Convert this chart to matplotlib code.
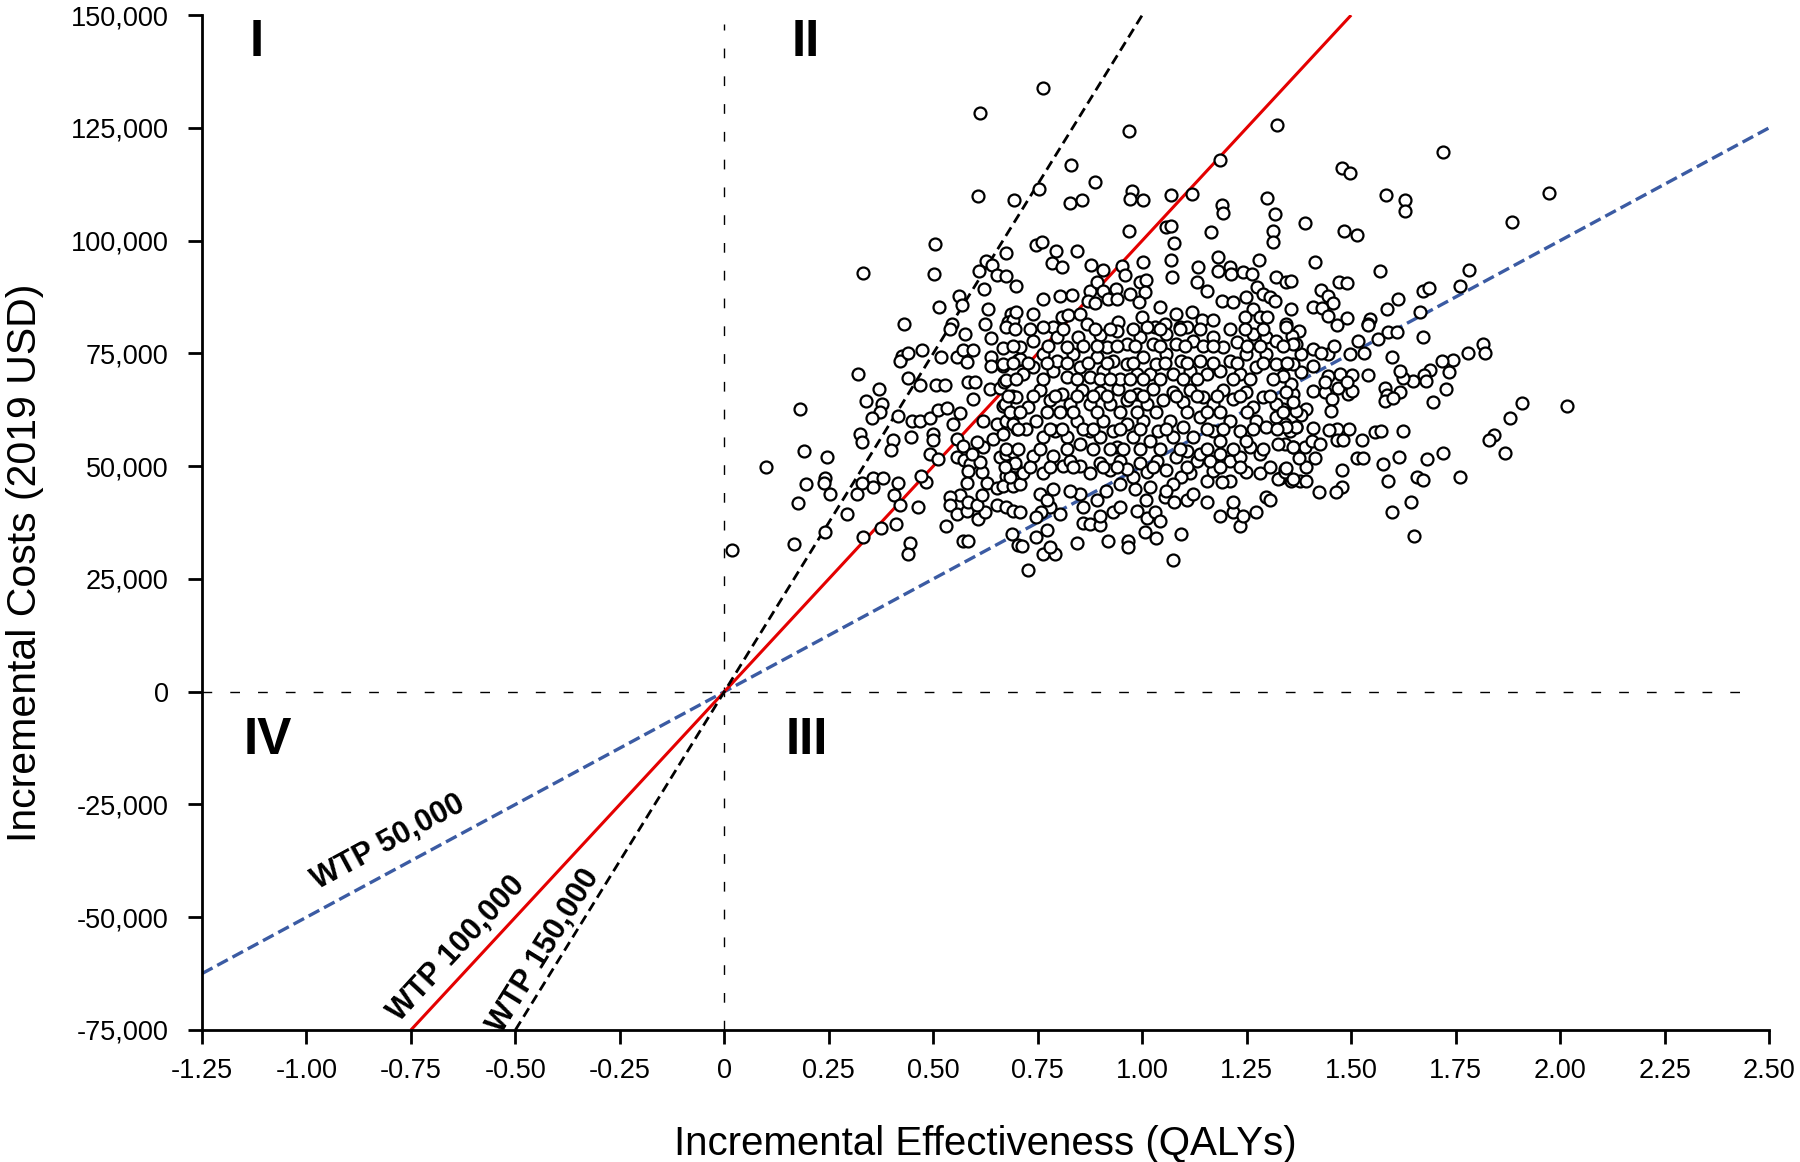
import numpy as np
import matplotlib
matplotlib.use("Agg")
import matplotlib.pyplot as plt
from matplotlib import font_manager

# ---------------- data (QALYs, cost in thousand USD) ----------------
# outer / upper-left part of the cloud
pts_upper_left = [
    (0.612, 128.4), (0.606, 109.8), (0.693, 109.0), (0.504, 99.3), (0.331, 92.8), (0.501, 92.6),
    (0.675, 97.2), (0.625, 95.4), (0.640, 94.7), (0.610, 93.2), (0.653, 92.4), (0.673, 92.1),
    (0.698, 90.0), (0.622, 89.2), (0.562, 87.8), (0.568, 85.8), (0.514, 85.2), (0.630, 84.9),
    (0.430, 81.5), (0.624, 81.6), (0.685, 83.8), (0.679, 81.9), (0.691, 82.3), (0.546, 81.5),
]
# upper-middle part
pts_upper_mid = [
    (0.763, 133.9), (0.969, 124.4), (1.323, 125.7), (1.186, 117.9), (0.829, 116.7), (0.888, 112.9),
    (0.753, 111.4), (0.827, 108.3), (0.856, 108.9), (0.975, 111.1), (0.971, 109.2), (1.001, 108.9),
    (1.070, 110.2), (1.120, 110.4), (1.298, 109.5), (1.192, 108.0), (1.193, 106.1), (1.318, 106.0),
    (0.969, 102.1), (1.058, 103.1), (1.070, 103.2), (1.164, 102.0), (1.312, 102.1), (1.313, 99.6),
    (1.076, 99.5), (0.746, 99.0), (0.761, 99.8), (0.793, 97.6), (0.785, 95.1), (0.808, 94.2),
    (0.843, 97.6), (0.877, 94.7), (0.905, 93.6), (0.951, 94.4), (0.959, 92.3), (1.002, 95.2),
    (1.069, 95.8), (1.071, 91.9), (1.134, 94.2), (1.130, 90.9), (1.154, 88.9), (1.182, 96.3),
    (1.182, 93.2), (1.211, 94.2), (1.212, 92.6), (1.242, 93.0), (1.262, 92.7), (1.280, 95.7),
    (1.319, 91.9), (1.345, 90.8), (1.356, 91.1), (0.763, 87.1), (0.739, 83.8), (0.699, 84.2),
    (0.803, 87.8), (0.831, 87.9), (0.875, 88.9), (0.891, 90.8), (0.906, 88.9), (0.871, 86.7),
    (0.887, 86.2), (0.919, 87.1), (0.937, 89.3), (0.939, 87.1), (0.971, 88.2), (0.994, 90.8),
    (1.009, 91.3), (1.006, 88.6), (0.993, 86.3), (1.042, 85.2), (1.082, 83.8), (1.118, 84.1),
    (1.142, 82.3), (1.170, 82.3), (1.190, 86.7), (1.218, 86.3), (1.249, 87.4), (1.274, 89.7),
    (1.290, 88.2), (1.307, 87.4), (1.318, 86.7), (1.357, 84.9), (1.266, 84.9), (1.281, 83.1),
    (1.246, 83.1), (0.787, 80.8), (0.807, 83.1), (0.823, 83.5), (0.851, 83.8), (0.943, 82.0),
    (0.999, 83.1), (1.030, 80.8), (1.054, 81.5), (1.090, 80.8), (1.298, 83.1), (1.345, 81.5),
]
# upper-right part
pts_upper_right = [
    (1.719, 119.7), (1.477, 116.0), (1.497, 114.9), (1.583, 110.1), (1.629, 108.9), (1.629, 106.5),
    (1.974, 110.5), (1.884, 104.2), (1.389, 103.9), (1.483, 102.2), (1.513, 101.3), (1.413, 95.2),
    (1.570, 93.2), (1.782, 93.5), (1.760, 89.9), (1.672, 88.9), (1.686, 89.5), (1.613, 87.1),
    (1.585, 84.9), (1.665, 84.1), (1.471, 90.8), (1.491, 90.6), (1.429, 89.1), (1.445, 87.8),
    (1.457, 86.1), (1.409, 85.2), (1.431, 85.1), (1.445, 83.2), (1.489, 82.8), (1.546, 82.6),
    (1.541, 81.5),
]
# lower-right part
pts_lower_right = [
    (1.672, 78.7), (1.815, 77.0), (1.820, 75.1), (1.780, 75.1), (1.744, 73.6), (1.718, 73.3),
    (1.734, 70.8), (1.688, 71.4), (1.674, 70.2), (1.678, 68.8), (1.648, 68.9), (1.623, 69.5),
    (1.618, 71.2), (1.726, 67.0), (1.696, 64.2), (1.618, 66.5), (1.582, 67.4), (1.585, 65.8),
    (1.582, 64.5), (1.601, 65.1), (1.597, 74.1), (1.910, 63.9), (2.016, 63.3), (1.880, 60.6),
    (1.843, 57.0), (1.830, 55.7), (1.868, 52.9), (1.720, 53.0), (1.682, 51.7), (1.614, 52.0),
    (1.577, 50.5), (1.623, 57.9), (1.556, 57.5), (1.571, 57.9), (1.527, 55.7), (1.514, 51.8),
    (1.528, 51.8), (1.760, 47.5), (1.587, 46.8), (1.657, 47.5), (1.673, 47.0), (1.477, 49.2),
    (1.477, 45.3), (1.464, 44.3), (1.424, 44.2), (1.643, 42.0), (1.597, 39.9), (1.650, 34.6),
    (1.495, 58.3), (1.465, 58.3), (1.465, 55.7), (1.481, 55.8), (1.409, 58.5), (1.447, 58.1),
    (1.413, 51.8), (1.392, 49.9), (1.375, 51.8), (1.362, 54.2), (1.390, 54.2), (1.407, 55.5),
    (1.425, 54.9), (1.367, 58.6), (1.341, 59.4), (1.341, 49.4), (1.357, 46.8), (1.377, 46.8),
    (1.393, 46.8), (1.330, 47.3), (1.360, 66.0), (1.409, 66.7), (1.437, 66.5), (1.455, 64.9),
    (1.451, 62.3), (1.393, 62.7), (1.381, 61.3), (1.493, 66.0), (1.503, 66.7), (1.469, 67.4),
    (1.473, 70.4), (1.444, 70.1), (1.503, 70.2), (1.541, 70.3), (1.489, 68.6), (1.437, 68.6),
    (1.409, 72.3), (1.381, 74.8), (1.409, 75.9), (1.445, 74.8), (1.459, 76.7), (1.429, 75.1),
    (1.517, 77.7), (1.531, 75.0), (1.497, 74.8), (1.564, 78.2), (1.589, 79.7), (1.609, 79.8),
    (1.541, 81.4), (1.465, 81.2), (1.375, 80.0), (1.359, 78.9), (1.367, 77.1), (1.345, 72.7),
    (1.381, 70.8), (1.357, 68.2), (1.336, 70.1), (1.336, 62.7), (1.353, 57.9), (1.341, 54.9),
]
# lower-left part
pts_lower_left = [
    (0.019, 31.5), (0.099, 49.9), (0.181, 62.7), (0.190, 53.3), (0.246, 52.1), (0.195, 46.1),
    (0.241, 47.4), (0.239, 46.3), (0.252, 43.8), (0.177, 41.8), (0.167, 32.8), (0.241, 35.3),
    (0.293, 39.4), (0.317, 43.8), (0.332, 34.2), (0.320, 70.4), (0.371, 67.1), (0.339, 64.5),
    (0.378, 63.7), (0.372, 61.9), (0.354, 60.7), (0.325, 57.1), (0.329, 55.3), (0.356, 47.4),
    (0.379, 47.4), (0.356, 45.3), (0.330, 46.3), (0.374, 36.4), (0.404, 55.8), (0.400, 53.6),
    (0.416, 46.3), (0.406, 43.7), (0.420, 41.3), (0.412, 37.2), (0.444, 32.9), (0.440, 30.6),
    (0.464, 40.9), (0.446, 56.4), (0.450, 60.1), (0.468, 60.0), (0.416, 61.2), (0.440, 69.6),
    (0.424, 74.5), (0.420, 73.4), (0.440, 75.1), (0.474, 75.8), (0.468, 68.1), (0.506, 67.9),
    (0.528, 67.9), (0.518, 74.3), (0.540, 80.4), (0.556, 74.3), (0.576, 79.2), (0.572, 75.8),
    (0.580, 73.0), (0.596, 75.8), (0.637, 78.4), (0.639, 74.3), (0.639, 72.3), (0.666, 76.3),
    (0.667, 72.3), (0.702, 73.6), (0.492, 60.7), (0.512, 62.5), (0.532, 63.0), (0.500, 57.1),
    (0.500, 55.7), (0.492, 52.7), (0.512, 51.6), (0.483, 46.4), (0.470, 47.8), (0.548, 59.4),
    (0.565, 61.8), (0.556, 56.0), (0.570, 54.5), (0.557, 52.0), (0.573, 51.3), (0.587, 50.5),
    (0.583, 49.0), (0.580, 46.3), (0.564, 43.5), (0.540, 43.2), (0.540, 41.3), (0.556, 39.4),
    (0.580, 40.0), (0.584, 42.0), (0.608, 38.3), (0.624, 39.8), (0.604, 41.5), (0.616, 43.6),
    (0.628, 46.3), (0.616, 48.8), (0.612, 51.0), (0.592, 52.7), (0.620, 54.2), (0.644, 56.0),
    (0.604, 55.3), (0.596, 64.9), (0.584, 68.6), (0.600, 68.6), (0.636, 67.1), (0.660, 67.4),
    (0.670, 68.6), (0.620, 60.1), (0.652, 59.4), (0.675, 60.1), (0.668, 63.4), (0.688, 65.6),
    (0.692, 61.4), (0.700, 58.2), (0.660, 52.1), (0.675, 52.8), (0.691, 53.2), (0.695, 50.0),
    (0.675, 47.8), (0.691, 47.4), (0.652, 45.2), (0.667, 45.6), (0.691, 45.6), (0.652, 41.3),
    (0.675, 40.9), (0.691, 40.0), (0.530, 36.8), (0.570, 33.3), (0.584, 33.3), (0.688, 35.0),
    (0.703, 32.6),
]
# dense core, lower edge
pts_core_low = [
    (0.727, 27.0), (1.073, 29.2), (0.712, 32.4), (0.763, 30.5), (0.791, 30.5), (0.779, 32.1),
    (0.845, 32.9), (0.919, 33.5), (0.967, 33.5), (0.967, 32.0), (1.094, 35.0), (1.033, 34.1),
    (1.007, 35.4), (0.747, 34.3), (0.771, 35.8), (0.859, 37.3), (0.875, 37.2), (0.899, 37.0),
    (0.899, 39.0), (0.931, 39.8), (0.947, 40.9), (0.987, 40.1), (1.011, 38.6), (1.031, 39.8),
    (1.043, 37.9), (1.055, 43.1), (1.075, 42.0), (1.106, 42.4), (1.122, 43.9), (1.154, 42.0),
    (1.154, 46.8), (1.186, 39.0), (1.218, 39.8), (1.218, 42.0), (1.233, 36.8), (1.241, 39.0),
    (1.273, 39.8), (1.297, 43.1), (1.305, 42.4), (1.325, 47.1), (1.341, 48.6), (1.361, 47.1),
    (1.281, 48.4), (1.249, 48.6), (1.210, 46.8), (1.190, 46.5), (1.170, 49.0), (1.130, 51.2),
    (1.114, 48.4), (1.094, 47.7), (1.074, 46.1), (1.058, 44.6), (1.018, 45.3), (1.010, 42.4),
    (0.982, 45.0), (0.978, 47.7), (0.946, 46.1), (0.914, 44.6), (0.891, 42.4), (0.859, 40.9),
    (0.851, 43.9), (0.827, 44.6), (0.803, 39.4), (0.779, 40.9), (0.759, 39.8), (0.747, 38.7),
    (0.707, 39.8), (0.755, 43.9), (0.771, 42.4), (0.787, 45.0), (0.707, 46.1), (0.715, 48.4),
    (0.683, 47.7), (0.695, 50.6), (0.739, 52.2), (0.763, 48.4), (0.787, 52.2), (0.811, 50.0),
    (0.827, 51.1), (0.851, 50.0), (0.875, 48.4), (0.899, 50.6), (0.923, 49.1), (0.947, 51.2),
    (0.963, 49.4), (0.995, 50.6), (1.011, 48.7), (1.035, 51.2), (1.058, 49.1), (1.082, 52.0),
    (1.106, 53.4), (1.138, 52.7), (1.162, 51.2), (1.186, 52.7), (1.210, 51.2), (1.233, 52.0),
    (1.257, 54.2), (1.281, 52.7), (1.325, 55.0), (1.345, 49.7), (1.361, 54.2), (1.369, 58.6),
]
# dense core, middle and upper bands
pts_core_mid = [
    (0.667, 57.2), (0.691, 59.4), (0.723, 58.3), (0.747, 60.1), (0.763, 56.4), (0.791, 57.9),
    (0.819, 56.4), (0.843, 60.1), (0.851, 54.9), (0.875, 57.9), (0.899, 56.4), (0.907, 60.1),
    (0.931, 57.9), (0.939, 54.2), (0.963, 59.4), (0.978, 56.4), (1.002, 60.1), (1.018, 55.6),
    (1.038, 57.9), (1.066, 60.1), (1.074, 56.4), (1.098, 58.6), (1.122, 56.4), (1.138, 60.8),
    (1.170, 57.9), (1.186, 55.6), (1.210, 60.1), (1.233, 57.9), (1.249, 55.6), (1.273, 60.1),
    (1.297, 58.6), (1.321, 60.8), (1.345, 58.6), (1.369, 62.3),
    (0.671, 63.8), (0.699, 65.3), (0.727, 63.1), (0.755, 66.8), (0.779, 64.6), (0.807, 66.0),
    (0.827, 63.8), (0.855, 66.8), (0.875, 63.8), (0.899, 66.4), (0.923, 63.8), (0.943, 67.1),
    (0.963, 64.6), (0.987, 66.0), (1.011, 63.8), (1.027, 67.1), (1.050, 64.6), (1.074, 66.4),
    (1.098, 64.2), (1.114, 66.8), (1.146, 65.3), (1.170, 63.8), (1.194, 66.8), (1.218, 64.9),
    (1.249, 66.4), (1.265, 63.1), (1.289, 65.3), (1.321, 63.8), (1.345, 66.4), (1.361, 64.2),
    (0.667, 72.7), (0.675, 69.0), (0.707, 73.8), (0.715, 70.5), (0.739, 72.0), (0.763, 74.9),
    (0.787, 71.2), (0.795, 73.4), (0.819, 69.7), (0.835, 74.9), (0.851, 72.0), (0.875, 69.7),
    (0.891, 74.2), (0.907, 71.2), (0.931, 73.4), (0.947, 69.3), (0.963, 72.7), (0.987, 70.5),
    (1.002, 74.2), (1.018, 70.5), (1.034, 72.7), (1.058, 74.9), (1.074, 70.5), (1.094, 73.4),
    (1.114, 71.2), (1.138, 73.4), (1.154, 70.5), (1.186, 71.2), (1.210, 73.4), (1.233, 70.5),
    (1.249, 74.9), (1.273, 72.0), (1.297, 74.9), (1.321, 72.7), (1.361, 72.7),
    (0.675, 80.8), (0.707, 76.4), (0.739, 77.8), (0.763, 80.8), (0.795, 78.6), (0.819, 76.4),
    (0.847, 78.6), (0.867, 81.5), (0.899, 79.0), (0.915, 76.4), (0.939, 80.0), (0.963, 77.1),
    (0.995, 78.6), (1.011, 80.8), (1.027, 77.1), (1.058, 79.3), (1.082, 77.1), (1.106, 80.8),
    (1.122, 77.8), (1.170, 78.6), (1.194, 76.4), (1.226, 77.5), (1.265, 79.3), (1.297, 78.6),
    (1.321, 77.8), (1.345, 80.8), (1.361, 77.1),
]
# additional core points read row by row: cost level -> QALY positions
core_row_costs = [80.4, 76.7, 72.8, 69.3, 65.6, 61.9, 58.3, 53.8, 49.8]
core_row_qalys = [
    [0.695, 0.731, 0.811, 0.887, 0.923, 0.978, 1.042, 1.090, 1.138, 1.210, 1.246, 1.290],
    [0.691, 0.775, 0.859, 0.891, 0.939, 0.983, 1.042, 1.102, 1.146, 1.170, 1.250, 1.282, 1.338],
    [0.691, 0.727, 0.771, 0.819, 0.871, 0.915, 0.978, 1.054, 1.106, 1.170, 1.226, 1.290, 1.346],
    [0.699, 0.763, 0.843, 0.899, 0.923, 0.971, 1.002, 1.042, 1.098, 1.130, 1.218, 1.258, 1.314],
    [0.679, 0.739, 0.791, 0.843, 0.883, 0.915, 0.971, 1.002, 1.082, 1.130, 1.178, 1.234, 1.306],
    [0.683, 0.707, 0.771, 0.803, 0.835, 0.891, 0.947, 0.987, 1.034, 1.106, 1.154, 1.186, 1.250, 1.338],
    [0.703, 0.779, 0.807, 0.859, 0.883, 0.947, 0.995, 1.058, 1.154, 1.194, 1.266, 1.322],
    [0.675, 0.703, 0.755, 0.819, 0.883, 0.923, 0.955, 0.995, 1.042, 1.090, 1.154, 1.218, 1.290],
    [0.671, 0.731, 0.779, 0.835, 0.907, 0.939, 1.026, 1.106, 1.186, 1.234, 1.306],
]

# willingness-to-pay thresholds and their drawn QALY extents
wtp_values = [50000, 100000, 150000]
wtp_x_ranges = [(-1.25, 2.50), (-0.75, 1.50), (-0.50, 1.00)]
wtp_labels = ["WTP 50,000", "WTP 100,000", "WTP 150,000"]
wtp_label_pos = [(-0.805, -33.5e3), (-0.640, -57.0e3), (-0.432, -57.5e3)]

quadrant_labels = ["I", "II", "III", "IV"]
quadrant_pos = [(-1.12, 144e3), (0.195, 144e3), (0.198, -10.8e3), (-1.092, -10.8e3)]

x_ticks = [-1.25, -1.00, -0.75, -0.50, -0.25, 0, 0.25, 0.50, 0.75, 1.00, 1.25, 1.50, 1.75, 2.00, 2.25, 2.50]
x_tick_labels = ["-1.25", "-1.00", "-0.75", "-0.50", "-0.25", "0", "0.25", "0.50", "0.75",
                 "1.00", "1.25", "1.50", "1.75", "2.00", "2.25", "2.50"]
y_ticks = [-75000, -50000, -25000, 0, 25000, 50000, 75000, 100000, 125000, 150000]
y_tick_labels = ["-75,000", "-50,000", "-25,000", "0", "25,000", "50,000", "75,000",
                 "100,000", "125,000", "150,000"]

# ---------------- assemble ----------------
all_pts = (pts_upper_left + pts_upper_mid + pts_upper_right + pts_lower_right +
           pts_lower_left + pts_core_low + pts_core_mid)
for c, row in zip(core_row_costs, core_row_qalys):
    all_pts += [(q, c) for q in row]
qaly = np.array([p[0] for p in all_pts])
cost = np.array([p[1] for p in all_pts]) * 1000.0

# ---------------- fonts ----------------
names = {f.name for f in font_manager.fontManager.ttflist}
base_font = "Liberation Sans" if "Liberation Sans" in names else "DejaVu Sans"
narrow_font = "Liberation Sans Narrow" if "Liberation Sans Narrow" in names else base_font
ylabel_size = 33 if narrow_font != base_font else 29.5
plt.rcParams["font.family"] = [base_font, "DejaVu Sans"]

# ---------------- figure ----------------
fig = plt.figure(figsize=(18, 11.62), dpi=100)
ax = fig.add_axes([0.1122, 0.1136, 0.9828 - 0.1122, 0.987 - 0.1136])
ax.set_xlim(-1.25, 2.50)
ax.set_ylim(-75000, 150000)

for s in ["top", "right"]:
    ax.spines[s].set_visible(False)
for s in ["left", "bottom"]:
    ax.spines[s].set_linewidth(2.0)
    ax.spines[s].set_color("black")

# quadrant dashed axes
ax.plot([0, 0], [-75000, 148000], color="black", lw=1.0, dashes=(7, 13), zorder=1)
ax.plot([-1.25, 2.43], [0, 0], color="black", lw=1.0, dashes=(7, 13), zorder=1)

# WTP lines
wtp_styles = [
    dict(color="#3B5BA3", lw=2.4, dashes=(3.6, 1.6)),
    dict(color="#E40000", lw=2.2),
    dict(color="black", lw=2.0, dashes=(3.6, 2.0)),
]
for wtp, (x0, x1), st in zip(wtp_values, wtp_x_ranges, wtp_styles):
    xs = np.array([x0, x1])
    ax.plot(xs, wtp * xs, zorder=2, solid_capstyle="butt", **st)

# scatter
ax.plot(qaly, cost, linestyle="none", marker="o", ms=8.6, mew=1.6,
        mfc="white", mec="black", zorder=3)

# WTP labels rotated along their lines
for wtp, lab, (lx, ly) in zip(wtp_values, wtp_labels, wtp_label_pos):
    p0 = ax.transData.transform((0, 0))
    p1 = ax.transData.transform((1, wtp))
    ang = np.degrees(np.arctan2(p1[1] - p0[1], p1[0] - p0[0]))
    ax.text(lx, ly, lab, rotation=ang, rotation_mode="anchor", ha="center", va="center",
            fontsize=22, fontweight="bold", zorder=4)

for lab, (qx, qy) in zip(quadrant_labels, quadrant_pos):
    ax.text(qx, qy, lab, ha="center", va="center", fontsize=37, fontweight="bold")

ax.set_xticks(x_ticks)
ax.set_xticklabels(x_tick_labels)
ax.set_yticks(y_ticks)
ax.set_yticklabels(y_tick_labels)
ax.tick_params(axis="both", direction="out", length=10, width=2, labelsize=19.5, color="black")
ax.tick_params(axis="y", pad=14)
ax.tick_params(axis="x", pad=10)

ax.set_xlabel("Incremental Effectiveness (QALYs)", fontsize=29, labelpad=30)
ax.set_ylabel("Incremental Costs (2019 USD)", fontsize=ylabel_size,
              family=[narrow_font, "DejaVu Sans"])
ax.yaxis.set_label_coords(-0.101, 0.46)

fig.savefig("out.png", dpi=100, facecolor="white")
